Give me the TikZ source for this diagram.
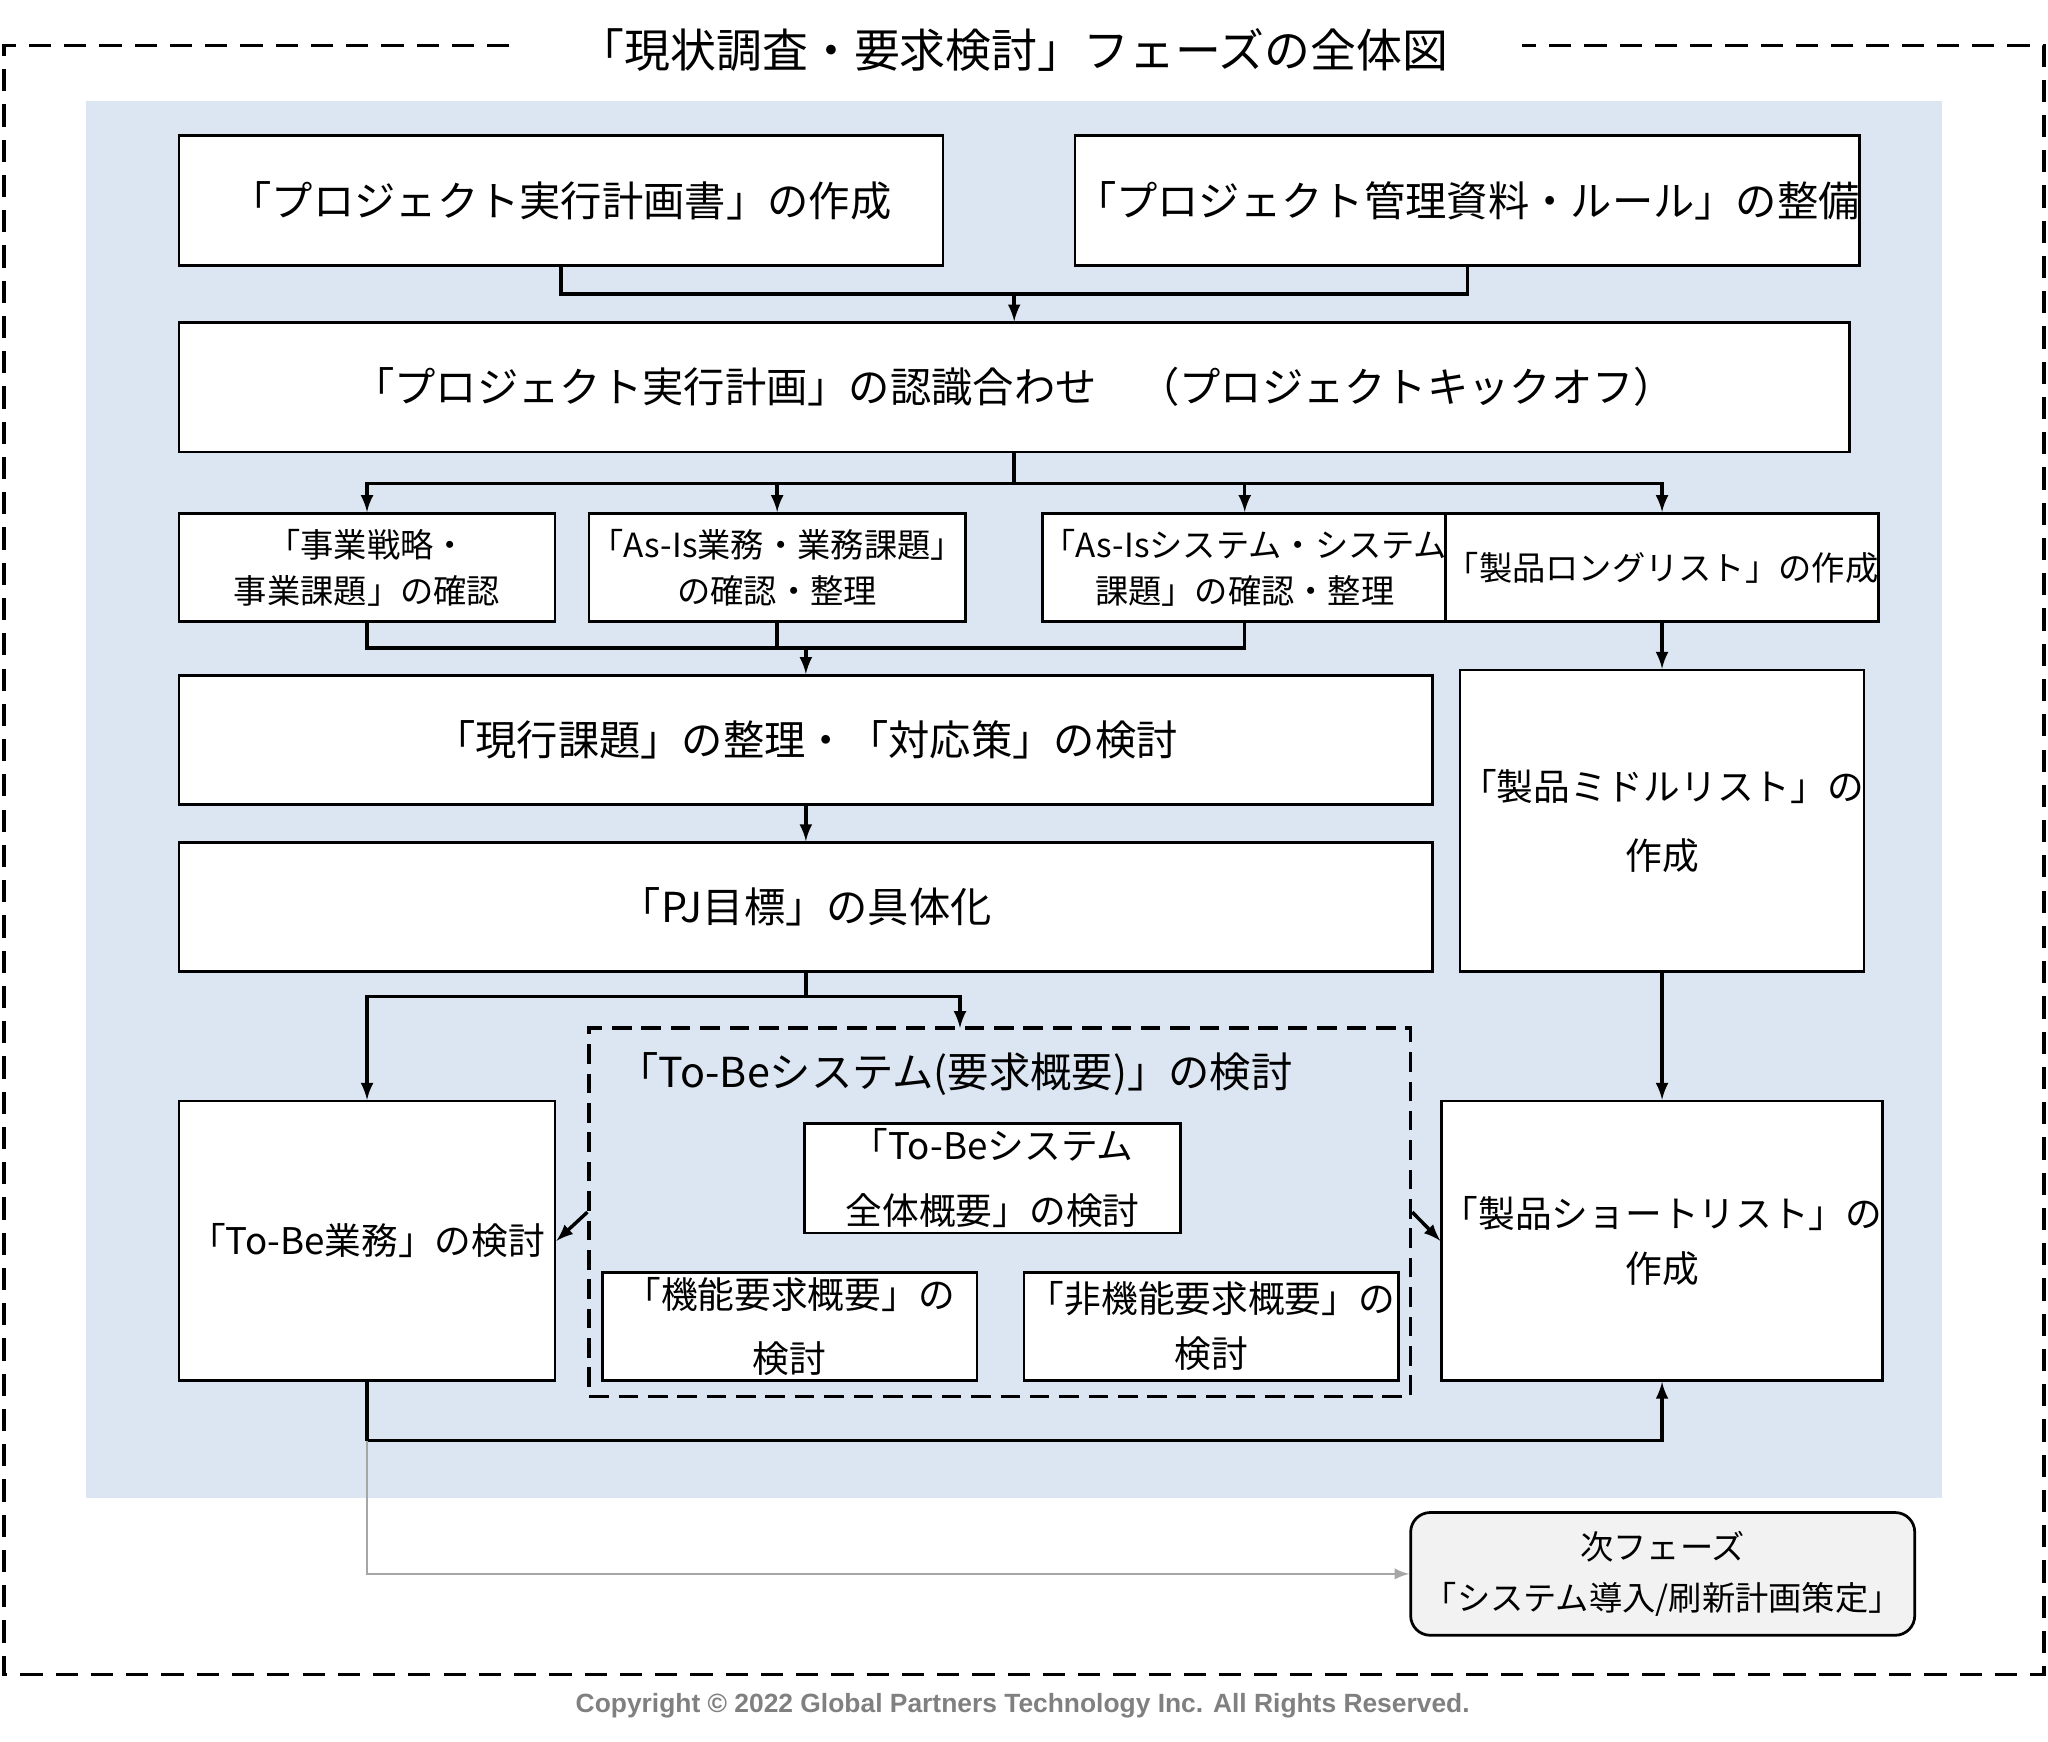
\documentclass[tikz,border=0pt]{standalone}
\usepackage{fontspec}
\setmainfont{Noto Sans CJK JP}
\newfontfamily\copyfont{Liberation Sans}
\usetikzlibrary{arrows,positioning}
\definecolor{bgblue}{HTML}{DCE6F2}
\definecolor{nextgray}{HTML}{F2F2F2}
\begin{document}
\begin{tikzpicture}[x=0.02cm,y=-0.02cm]
\tikzstyle{box} = [draw, fill=white, line width=1.2pt, inner sep=0pt, align=center, font=\fontsize{18}{26}\selectfont];
\tikzstyle{small} = [box, minimum width=5.76cm, minimum height=1.66cm, font=\fontsize{14.5}{20}\selectfont];
\tikzstyle{line} = [line width=1.5pt];
\tikzstyle{arr} = [line, -latex];
\useasboundingbox (0,0) rectangle (1568,1333);
% frame and background
\draw[line, dash pattern=on 0.34cm off 0.2cm] (390,35) -- (3,35) -- (3,1282) -- (1565,1282) -- (1565,35) -- (1165,35);
\node[font=\fontsize{20}{24}\selectfont] (title) at (776,38) {「現状調査・要求検討」フェーズの全体図};
\fill[bgblue] (66,77) rectangle (1487,1147);
% boxes
\node[box, minimum width=11.7cm, minimum height=1.98cm] (plan) at (429.5,153.5) {「プロジェクト実行計画書」の作成};
\node[box, minimum width=11.7cm, minimum height=1.98cm] (rule) at (1123.5,153.5) {「プロジェクト管理資料・ルール」の整備};
\node[box, minimum width=25.58cm, minimum height=1.98cm] (kick) at (776.5,296.5) {「プロジェクト実行計画」の認識合わせ　（プロジェクトキックオフ）};
\node[small] (strat) at (281,434.5) {「事業戦略・\\事業課題」の確認};
\node[small] (asbiz) at (595,434.5) {「As-Is業務・業務課題」\\の確認・整理};
\node[small] (assys) at (953,434.5) {「As-Isシステム・システム\\課題」の確認・整理};
\node[small, minimum width=5.74cm] (long) at (1272.5,434.5) {「製品ロングリスト」の作成};
\node[box, minimum width=19.2cm, minimum height=1.98cm] (issue) at (617,566.5) {「現行課題」の整理・「対応策」の検討};
\node[box, minimum width=19.2cm, minimum height=1.98cm] (goal) at (617,694.5) {「PJ目標」の具体化};
\node[box, minimum width=5.74cm, minimum height=4.62cm, font=\fontsize{16}{30}\selectfont] (middle) at (1272.5,628.5) {「製品ミドルリスト」の\\作成};
\node[draw, line width=1.5pt, dash pattern=on 0.3cm off 0.15cm, minimum width=12.58cm, minimum height=5.64cm] (grp) at (765.5,928) {};
\node[font=\fontsize{18}{24}\selectfont] (grptitle) at (731,822) {「To-Beシステム(要求概要)」の検討};
\node[small, minimum height=1.68cm, font=\fontsize{16}{28}\selectfont] (whole) at (760,902) {「To-Beシステム\\全体概要」の検討};
\node[small, minimum width=5.74cm, font=\fontsize{16}{28}\selectfont] (func) at (604.5,1015.5) {「機能要求概要」の\\検討};
\node[small, minimum width=5.74cm, font=\fontsize{16}{24}\selectfont] (nfunc) at (927.5,1015.5) {「非機能要求概要」の\\検討};
\node[box, minimum width=5.76cm, minimum height=4.28cm, font=\fontsize{16}{24}\selectfont] (tobe) at (281,950) {「To-Be業務」の検討};
\node[box, minimum width=5.74cm, minimum height=4.28cm, font=\fontsize{16}{24}\selectfont] (short) at (1272.5,950) {「製品ショートリスト」の\\作成};
\node[draw, fill=nextgray, rounded corners=0.3cm, line width=1.2pt, minimum width=7.72cm, minimum height=1.88cm, align=center, font=\fontsize{14.5}{22}\selectfont] (next) at (1273,1205) {次フェーズ\\「システム導入/刷新計画策定」};
\node[font=\copyfont\bfseries\fontsize{11.5}{14}\selectfont, text=gray] (copy) at (783,1306) {Copyright © 2022 Global Partners Technology Inc. All Rights Reserved.};
% connectors
\coordinate (j1) at (776.5,225);
\coordinate (j2) at (776.5,370);
\coordinate (j3) at (617,496);
\coordinate (j4) at (617,763);
\coordinate (g1) at (735,787);
\coordinate (j5) at (281,1103);
\draw[line] (plan.south) |- (j1) -| (rule.south);
\draw[arr] (j1) -- (kick.north);
\draw[line] (kick.south) -- (j2);
\draw[arr] (j2) -| (strat.north);
\draw[arr] (j2) -| (asbiz.north);
\draw[arr] (j2) -| (assys.north);
\draw[arr] (j2) -| (long.north);
\draw[line] (strat.south) |- (j3) -| (assys.south);
\draw[line] (asbiz.south) -- (asbiz.south|-j3);
\draw[arr] (j3) -- (issue.north);
\draw[arr] (issue.south) -- (goal.north);
\draw[arr] (long.south) -- (middle.north);
\draw[arr] (middle.south) -- (short.north);
\draw[line] (goal.south) -- (j4);
\draw[arr] (j4) -| (tobe.north);
\draw[arr] (j4) -| (g1);
\draw[arr] (grp.west) -- (tobe.east);
\draw[arr] (grp.east) -- (short.west);
\draw[line] (tobe.south) -- (j5);
\draw[arr] (j5) -| (short.south);
\draw[line, -latex, gray!70, line width=1.2pt] (j5) |- (next.west);
\end{tikzpicture}
\end{document}
